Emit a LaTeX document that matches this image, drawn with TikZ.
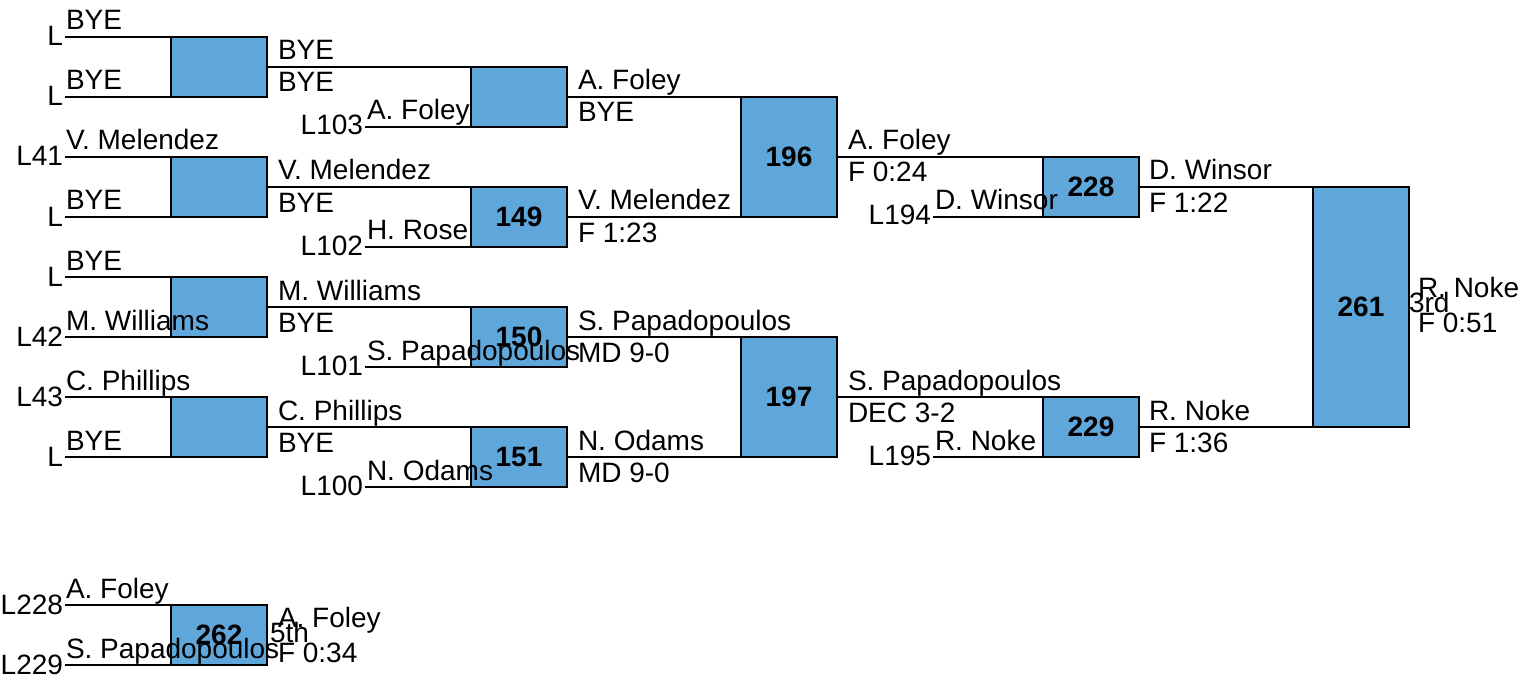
\documentclass[tikz,border=0pt]{standalone}
\usepackage{fontspec}
\setmainfont{Liberation Sans}
\definecolor{boxblue}{RGB}{95,166,218}
\tikzset{
  box/.style={draw, fill=boxblue, line width=2pt, minimum width=96pt, minimum height=60pt,
    inner sep=0pt, outer sep=0pt, font=\fontsize{28}{33}\selectfont\bfseries},
  tallbox/.style={box, minimum height=120pt},
  finalbox/.style={box, minimum height=240pt},
  wire/.style={line width=2pt},
  lbl/.style={anchor=base west, inner sep=0pt, outer sep=0pt},
  seed/.style={anchor=base east, inner sep=0pt, outer sep=0pt}
}
\begin{document}
\begin{tikzpicture}[x=1pt, y=-1pt, font=\fontsize{28}{33}\selectfont]
\useasboundingbox (0,0) rectangle (1523,679);
% free ends
\coordinate (i1) at (65,37);
\coordinate (i2) at (65,97);
\coordinate (i3) at (65,157);
\coordinate (i4) at (65,217);
\coordinate (i5) at (65,277);
\coordinate (i6) at (65,337);
\coordinate (i7) at (65,397);
\coordinate (i8) at (65,457);
\coordinate (j1) at (365,127);
\coordinate (j2) at (365,247);
\coordinate (j3) at (365,367);
\coordinate (j4) at (365,487);
\coordinate (k1) at (933,217);
\coordinate (k2) at (933,457);
\coordinate (g1) at (65,605);
\coordinate (g2) at (65,665);
% boxes
\node[box] (b1) at (219,67) {};
\node[box] (b2) at (219,187) {};
\node[box] (b3) at (219,307) {};
\node[box] (b4) at (219,427) {};
\node[box] (c1) at (519,97) {};
\node[box] (c2) at (519,217) {149};
\node[box] (c3) at (519,337) {150};
\node[box] (c4) at (519,457) {151};
\node[tallbox] (d1) at (789,157) {196};
\node[tallbox] (d2) at (789,397) {197};
\node[box] (e1) at (1091,187) {228};
\node[box] (e2) at (1091,427) {229};
\node[finalbox] (f) at (1361,307) {261};
\node[box] (g) at (219,635) {262};
% wires
\draw[wire] (i1) -- (b1.north west);
\draw[wire] (i2) -- (b1.south west);
\draw[wire] (i3) -- (b2.north west);
\draw[wire] (i4) -- (b2.south west);
\draw[wire] (i5) -- (b3.north west);
\draw[wire] (i6) -- (b3.south west);
\draw[wire] (i7) -- (b4.north west);
\draw[wire] (i8) -- (b4.south west);
\draw[wire] (b1.east) -- (c1.north west);
\draw[wire] (j1) -- (c1.south west);
\draw[wire] (b2.east) -- (c2.north west);
\draw[wire] (j2) -- (c2.south west);
\draw[wire] (b3.east) -- (c3.north west);
\draw[wire] (j3) -- (c3.south west);
\draw[wire] (b4.east) -- (c4.north west);
\draw[wire] (j4) -- (c4.south west);
\draw[wire] (c1.east) -- (d1.north west);
\draw[wire] (c2.east) -- (d1.south west);
\draw[wire] (c3.east) -- (d2.north west);
\draw[wire] (c4.east) -- (d2.south west);
\draw[wire] (d1.east) -- (e1.north west);
\draw[wire] (k1) -- (e1.south west);
\draw[wire] (d2.east) -- (e2.north west);
\draw[wire] (k2) -- (e2.south west);
\draw[wire] (e1.east) -- (f.north west);
\draw[wire] (e2.east) -- (f.south west);
\draw[wire] (g1) -- (g.north west);
\draw[wire] (g2) -- (g.south west);
% column 1 labels
\node[lbl] (t1) at (66,30) {BYE};
\node[seed] (s1) at (63,46) {L};
\node[lbl] (t2) at (66,90) {BYE};
\node[seed] (s2) at (63,106) {L};
\node[lbl] (t3) at (66,150) {V. Melendez};
\node[seed] (s3) at (63,166) {L41};
\node[lbl] (t4) at (66,210) {BYE};
\node[seed] (s4) at (63,226) {L};
\node[lbl] (t5) at (66,270) {BYE};
\node[seed] (s5) at (63,286) {L};
\node[lbl] (t6) at (66,330) {M. Williams};
\node[seed] (s6) at (63,346) {L42};
\node[lbl] (t7) at (66,390) {C. Phillips};
\node[seed] (s7) at (63,406) {L43};
\node[lbl] (t8) at (66,450) {BYE};
\node[seed] (s8) at (63,466) {L};
% column 2 labels
\node[lbl] (u1) at (278,60) {BYE};
\node[lbl] (u1b) at (278,92) {BYE};
\node[lbl] (u2) at (278,180) {V. Melendez};
\node[lbl] (u2b) at (278,212) {BYE};
\node[lbl] (u3) at (278,300) {M. Williams};
\node[lbl] (u3b) at (278,332) {BYE};
\node[lbl] (u4) at (278,420) {C. Phillips};
\node[lbl] (u4b) at (278,452) {BYE};
\node[lbl] (v1) at (367,120) {A. Foley};
\node[seed] (r1) at (363,135) {L103};
\node[lbl] (v2) at (367,240) {H. Rose};
\node[seed] (r2) at (363,255) {L102};
\node[lbl] (v3) at (367,360) {S. Papadopoulos};
\node[seed] (r3) at (363,375) {L101};
\node[lbl] (v4) at (367,480) {N. Odams};
\node[seed] (r4) at (363,495) {L100};
% column 3 labels
\node[lbl] (w1) at (578,90) {A. Foley};
\node[lbl] (w1b) at (578,122) {BYE};
\node[lbl] (w2) at (578,210) {V. Melendez};
\node[lbl] (w2b) at (578,242) {F 1:23};
\node[lbl] (w3) at (578,330) {S. Papadopoulos};
\node[lbl] (w3b) at (578,362) {MD 9-0};
\node[lbl] (w4) at (578,450) {N. Odams};
\node[lbl] (w4b) at (578,482) {MD 9-0};
% column 4 labels
\node[lbl] (x1) at (848,150) {A. Foley};
\node[lbl] (x1b) at (848,182) {F 0:24};
\node[lbl] (x2) at (848,390) {S. Papadopoulos};
\node[lbl] (x2b) at (848,422) {DEC 3-2};
\node[lbl] (y1) at (935,210) {D. Winsor};
\node[seed] (q1) at (931,225) {L194};
\node[lbl] (y2) at (935,450) {R. Noke};
\node[seed] (q2) at (931,465) {L195};
% column 5 labels
\node[lbl] (z1) at (1149,180) {D. Winsor};
\node[lbl] (z1b) at (1149,212) {F 1:22};
\node[lbl] (z2) at (1149,420) {R. Noke};
\node[lbl] (z2b) at (1149,452) {F 1:36};
% result of 261
\node[lbl] (fw) at (1418,297) {R. Noke};
\node[lbl] (fp) at (1409,312) {3rd};
\node[lbl] (fr) at (1418,332) {F 0:51};
% consolation 262
\node[lbl] (h1) at (66,598) {A. Foley};
\node[seed] (p1) at (63,614) {L228};
\node[lbl] (h2) at (66,658) {S. Papadopoulos};
\node[seed] (p2) at (63,674) {L229};
\node[lbl] (gw) at (278,627) {A. Foley};
\node[lbl] (gp) at (270,642) {5th};
\node[lbl] (gr) at (278,662) {F 0:34};
\end{tikzpicture}
\end{document}
